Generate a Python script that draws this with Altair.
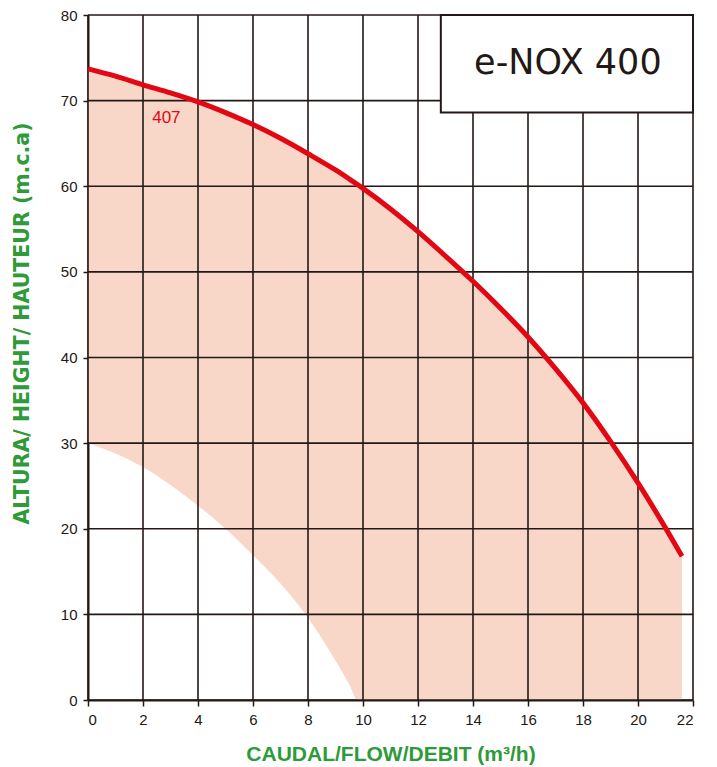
import altair as alt
import pandas as pd

# ---- data ----
flow = [0, 1, 2, 3, 4, 5, 6, 7, 8, 9, 9.5, 9.8, 10, 11, 12, 13, 14, 15, 16, 17, 18, 19, 20, 21, 21.6]
head = [73.7, 72.85, 71.85, 70.9, 69.85, 68.6, 67.2, 65.6, 63.8, 61.9, 60.85, 60.2, 59.75, 57.35,
        54.7, 51.85, 48.9, 45.75, 42.4, 38.7, 34.7, 30.2, 25.35, 20.1, 16.8]
lower = [30.0, 28.8, 27.2, 25.1, 22.7, 20.0, 16.9, 13.6, 9.6, 4.6, 1.8, 0, 0, 0,
         0, 0, 0, 0, 0, 0, 0, 0, 0, 0, 0]

x_ticks = [0, 2, 4, 6, 8, 10, 12, 14, 16, 18, 20, 22]
y_ticks = [0, 10, 20, 30, 40, 50, 60, 70, 80]

curve_label = ["407"]
curve_label_x = [2.85]
curve_label_y = [68.0]

model_name = ["e-NOX 400"]
box_x = [12.83, 22.0]
box_y = [68.6, 80.0]
model_x = [17.45]
model_y = [74.4]

x_title = "CAUDAL/FLOW/DEBIT (m³/h)"
y_title = "ALTURA/ HEIGHT/ HAUTEUR (m.c.a)"

# ---- styling ----
INK = "#231815"
GREEN = "#2E9A3A"
RED = "#E30613"
FILL = "#F8D7C9"
FONT = "Liberation Sans"

xs = alt.Scale(domain=[0, 22], nice=False, zero=False)
ys = alt.Scale(domain=[0, 80], nice=False, zero=False)

df = pd.DataFrame({"flow": flow, "head": head, "lower": lower})

area = alt.Chart(df).mark_area(color=FILL, opacity=1, interpolate="monotone").encode(
    x=alt.X("flow:Q", scale=xs, axis=alt.Axis(
        values=x_ticks, grid=False, title=x_title,
        labelFont=FONT, labelFontSize=15, labelColor=INK, labelPadding=6,
        tickColor=INK, tickSize=6, tickWidth=1.5,
        domainColor=INK, domainWidth=2,
        titleFont=FONT, titleFontSize=21, titleFontWeight="bold", titleColor=GREEN,
        titlePadding=16)),
    y=alt.Y("head:Q", scale=ys, axis=alt.Axis(
        values=y_ticks, grid=False, title=y_title,
        labelFont=FONT, labelFontSize=15, labelColor=INK, labelPadding=6,
        tickColor=INK, tickSize=5, tickWidth=1.5,
        domainColor=INK, domainWidth=2,
        titleFont="DejaVu Sans", titleFontSize=20.5, titleFontWeight="bold", titleColor=GREEN,
        titleX=-56, titleY=308)),
    y2="lower:Q",
)

vgrid = alt.Chart(pd.DataFrame({"x": x_ticks})).mark_rule(color=INK, strokeWidth=1.6).encode(
    x=alt.X("x:Q", scale=xs), y=alt.datum(0), y2=alt.datum(80))
hgrid = alt.Chart(pd.DataFrame({"y": y_ticks})).mark_rule(color=INK, strokeWidth=1.6).encode(
    y=alt.Y("y:Q", scale=ys), x=alt.datum(0), x2=alt.datum(22))

line = alt.Chart(df).mark_line(color=RED, strokeWidth=5, interpolate="monotone").encode(
    x=alt.X("flow:Q", scale=xs), y=alt.Y("head:Q", scale=ys))

lbl = alt.Chart(pd.DataFrame({"t": curve_label, "x": curve_label_x, "y": curve_label_y})).mark_text(
    color=RED, font=FONT, fontSize=17, align="center", baseline="middle").encode(
    x=alt.X("x:Q", scale=xs), y=alt.Y("y:Q", scale=ys), text="t:N")

box = alt.Chart(pd.DataFrame({"x1": [box_x[0]], "x2": [box_x[1]], "y1": [box_y[0]], "y2": [box_y[1]]})).mark_rect(
    fill="white", stroke=INK, strokeWidth=2).encode(
    x=alt.X("x1:Q", scale=xs), x2="x2:Q", y=alt.Y("y1:Q", scale=ys), y2="y2:Q")

model = alt.Chart(pd.DataFrame({"t": model_name, "x": model_x, "y": model_y})).mark_text(
    color=INK, font="DejaVu Sans", fontSize=35, align="center", baseline="middle").encode(
    x=alt.X("x:Q", scale=xs), y=alt.Y("y:Q", scale=ys), text="t:N")

chart = alt.layer(area, vgrid, hgrid, line, lbl, box, model).properties(
    width=605, height=685,
    autosize=alt.AutoSizeParams(type="none"),
    padding={"left": 80, "top": 7, "right": 16, "bottom": 66},
    background="white",
).configure_view(stroke=None)

chart.save("out.html", embed_options={"renderer": "svg", "actions": False})
